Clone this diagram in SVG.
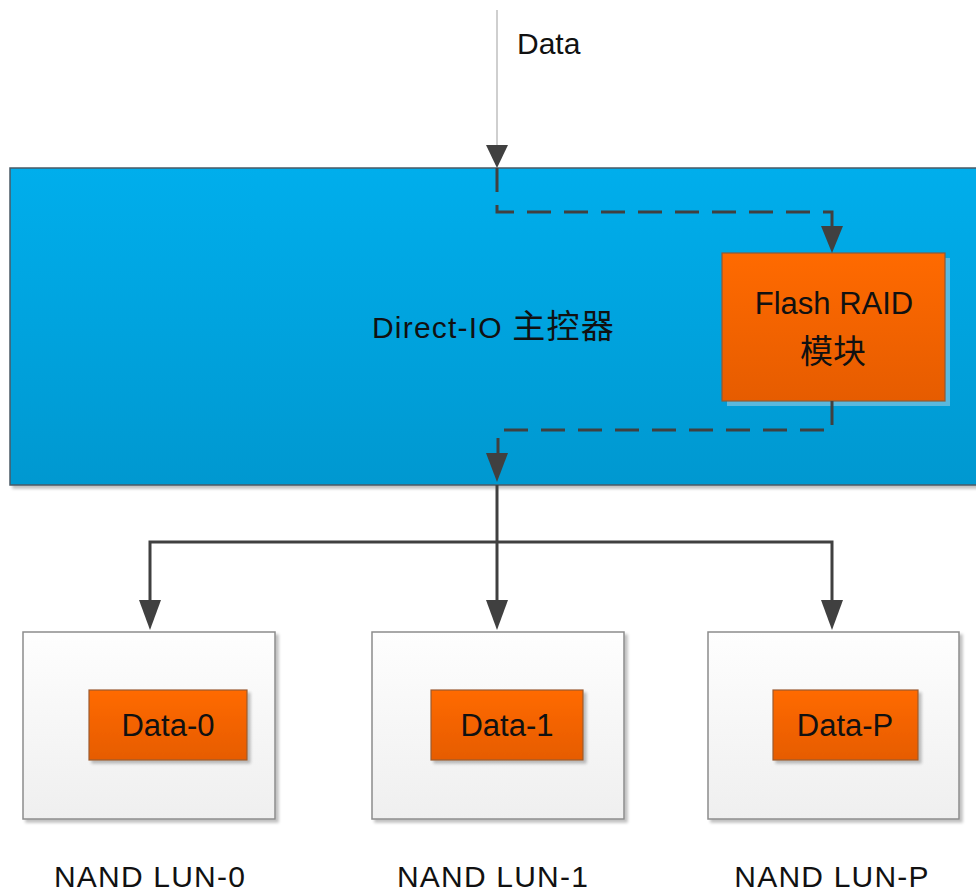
<svg xmlns="http://www.w3.org/2000/svg" width="976" height="892" viewBox="0 0 976 892">
  <style>
    .lbl { font-family: "Liberation Sans", "Noto Sans CJK SC", sans-serif; fill: #111; }
    .flow { fill: none; stroke: #404040; stroke-width: 3; }
    .dash { stroke-dasharray: 24 13; }
    .lun { fill: url(#lunFill); stroke: #8c8c8c; stroke-width: 1.5; }
    .chunk { fill: url(#orangeFill); stroke: #9a5a30; stroke-width: 1.2; }
    .cap { font-size: 30px; letter-spacing: 1.2px; }
  </style>
  <defs>
    <linearGradient id="blueFill" x1="0" y1="0" x2="0" y2="1">
      <stop offset="0" stop-color="#00aeec"/>
      <stop offset="1" stop-color="#0098d0"/>
    </linearGradient>
    <linearGradient id="orangeFill" x1="0" y1="0" x2="0" y2="1">
      <stop offset="0" stop-color="#ff6a00"/>
      <stop offset="1" stop-color="#e65c00"/>
    </linearGradient>
    <linearGradient id="lunFill" x1="0" y1="0" x2="0" y2="1">
      <stop offset="0" stop-color="#fefefe"/>
      <stop offset="1" stop-color="#efefef"/>
    </linearGradient>
    <filter id="shade" x="-5%" y="-5%" width="115%" height="115%">
      <feGaussianBlur in="SourceAlpha" stdDeviation="1.5"/>
      <feOffset dx="3" dy="3"/>
      <feComponentTransfer><feFuncA type="linear" slope="0.25"/></feComponentTransfer>
      <feMerge><feMergeNode/><feMergeNode in="SourceGraphic"/></feMerge>
    </filter>
  </defs>

  <rect width="976" height="892" fill="#ffffff"/>

  <!-- controller -->
  <g id="controller">
    <rect x="10" y="168" width="980" height="317" fill="url(#blueFill)" stroke="#4a5a66" stroke-width="1.5" filter="url(#shade)"/>
    <text class="lbl" x="372" y="338" font-size="30" letter-spacing="1.2">Direct-IO <tspan font-size="33">主控器</tspan></text>
  </g>

  <!-- RAID engine -->
  <g id="flash-raid">
    <rect x="727" y="258" width="223" height="148" fill="#6fbfe0" opacity="0.8"/>
    <rect x="722" y="253" width="223" height="148" fill="url(#orangeFill)" stroke="#8a5a3a" stroke-width="1.2"/>
    <text class="lbl" x="834" y="314" font-size="31" text-anchor="middle">Flash RAID</text>
    <text class="lbl" x="833" y="363" font-size="33" text-anchor="middle">模块</text>
  </g>

  <!-- NAND targets -->
  <g id="lun-0">
    <rect class="lun" x="23" y="632" width="252" height="187" filter="url(#shade)"/>
    <rect class="chunk" x="89" y="690" width="158" height="70" filter="url(#shade)"/>
    <text class="lbl" x="168" y="736" font-size="31" text-anchor="middle">Data-0</text>
    <text class="lbl cap" x="150" y="887" text-anchor="middle">NAND LUN-0</text>
  </g>
  <g id="lun-1">
    <rect class="lun" x="372" y="632" width="252" height="187" filter="url(#shade)"/>
    <rect class="chunk" x="431" y="690" width="152" height="70" filter="url(#shade)"/>
    <text class="lbl" x="507" y="736" font-size="31" text-anchor="middle">Data-1</text>
    <text class="lbl cap" x="493" y="887" text-anchor="middle">NAND LUN-1</text>
  </g>
  <g id="lun-p">
    <rect class="lun" x="708" y="632" width="251" height="187" filter="url(#shade)"/>
    <rect class="chunk" x="773" y="690" width="145" height="70" filter="url(#shade)"/>
    <text class="lbl" x="845" y="736" font-size="31" text-anchor="middle">Data-P</text>
    <text class="lbl cap" x="832" y="887" text-anchor="middle">NAND LUN-P</text>
  </g>

  <!-- input label -->
  <g id="data-in">
    <text class="lbl" x="517" y="54" font-size="30">Data</text>
  </g>

  <!-- connectors -->
  <g id="connectors">
    <line x1="497" y1="10" x2="497" y2="146" stroke="#cfcfcf" stroke-width="2"/>
    <path d="M486,145 L508,145 L497,168 Z" fill="#404040"/>
    <path class="flow dash" d="M497,168 V212 H832 V228"/>
    <path d="M821,226 L843,226 L832,253 Z" fill="#404040"/>
    <path class="flow dash" d="M832,401 V430 H503"/>
    <path d="M498,438 V455" class="flow"/>
    <path d="M486,453 L508,453 L497,482 Z" fill="#404040"/>
    <path class="flow" d="M497,485 V542"/>
    <path class="flow" d="M150,602 V542 H832 V602"/>
    <path class="flow" d="M497,542 V602"/>
    <path d="M139,600 L161,600 L150,630 Z" fill="#404040"/>
    <path d="M486,600 L508,600 L497,630 Z" fill="#404040"/>
    <path d="M821,600 L843,600 L832,630 Z" fill="#404040"/>
  </g>
</svg>
